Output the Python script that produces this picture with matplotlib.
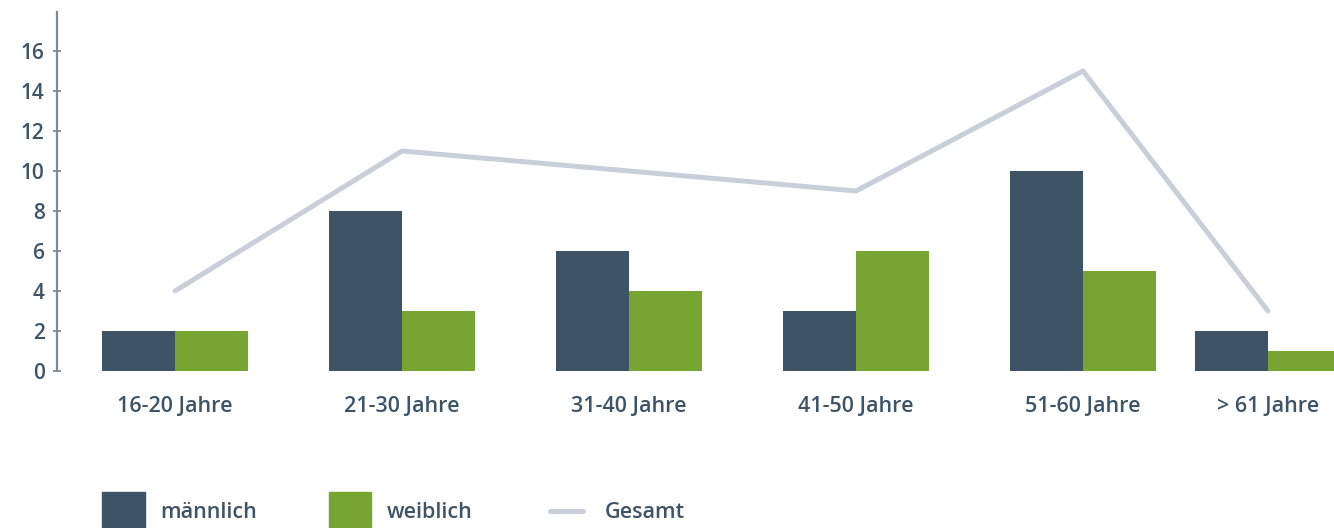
import matplotlib
matplotlib.use("Agg")
import matplotlib.pyplot as plt
from matplotlib.patches import Rectangle
from matplotlib.lines import Line2D

# data --------------------------------------------------------------
categories = ["16-20 Jahre", "21-30 Jahre", "31-40 Jahre", "41-50 Jahre", "51-60 Jahre", "> 61 Jahre"]
maennlich = [2, 8, 6, 3, 10, 2]
weiblich = [2, 3, 4, 6, 5, 1]
gesamt = [4, 11, 10, 9, 15, 3]
yticks = [0, 2, 4, 6, 8, 10, 12, 14, 16]

# layout / style ----------------------------------------------------
pos = [0, 1, 2, 3, 4, 4.815]
bw = 0.322
c_dark = "#3d5467"
c_green = "#76a532"
c_line = "#c9cfd9"
c_text = "#3d5467"
c_axis = "#7d8c9a"
plt.rcParams['font.family'] = ['Open Sans', 'DejaVu Sans']
plt.rcParams['font.weight'] = 600
fs = 15.5

W, H = 1334, 528
fig = plt.figure(figsize=(W / 100, H / 100), dpi=100)
x0, x1 = 57, 1334
ybot, ytop = 371, 12
ax = fig.add_axes([x0 / W, (H - ybot) / H, (x1 - x0) / W, (ybot - ytop) / H])

xm = [p - bw / 2 for p in pos]
xw = [p + bw / 2 for p in pos]
ax.bar(xm, maennlich, width=bw, color=c_dark, zorder=2)
ax.bar(xw, weiblich, width=bw, color=c_green, zorder=2)
ax.plot(pos, gesamt, color=c_line, lw=3.6, solid_capstyle='round', zorder=3)

ax.set_xlim(-0.52, 5.106)
ax.set_ylim(0, 17.95)
ax.set_yticks(yticks)
ax.set_xticks(pos)
ax.set_xticklabels(categories)
for s in ["top", "right", "bottom"]:
    ax.spines[s].set_visible(False)
ax.spines["left"].set_color(c_axis)
ax.spines["left"].set_linewidth(1.6)
ax.tick_params(axis='y', direction='inout', length=6, width=1.3, color=c_axis,
               labelsize=fs - 0.5, labelcolor=c_text, pad=6)
ax.tick_params(axis='x', length=0, labelsize=fs, labelcolor=c_text, pad=18)

# legend drawn by hand at the bottom
fig.patches.append(Rectangle((102 / W, 0), 43 / W, 36 / H, transform=fig.transFigure, color=c_dark))
fig.patches.append(Rectangle((329 / W, 0), 42 / W, 36 / H, transform=fig.transFigure, color=c_green))
fig.lines.append(Line2D([550 / W, 583 / W], [17 / H, 17 / H], transform=fig.transFigure,
                        color=c_line, lw=3.6, solid_capstyle='round'))
ly = 16 / H
fig.text(160 / W, ly, "männlich", color=c_text, fontsize=fs, va='center')
fig.text(387 / W, ly, "weiblich", color=c_text, fontsize=fs, va='center')
fig.text(605 / W, ly, "Gesamt", color=c_text, fontsize=fs, va='center')

fig.savefig("out.png", dpi=100)
